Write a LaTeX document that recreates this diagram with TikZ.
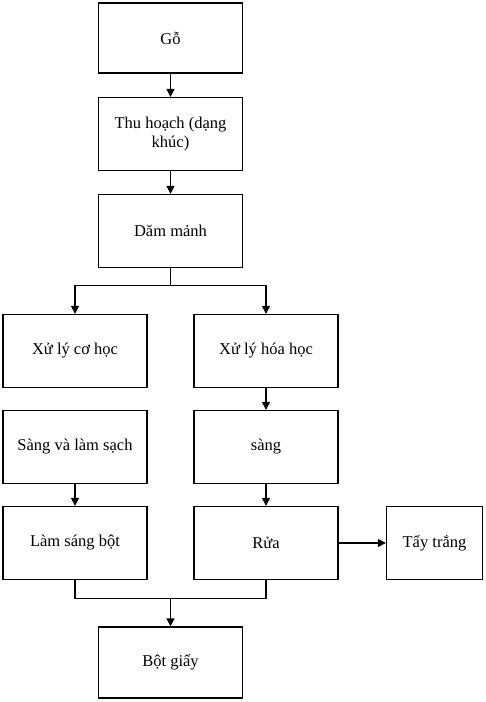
\documentclass[tikz,border=0pt]{standalone}
\usepackage{fontspec}
\setmainfont{Liberation Serif}
\usetikzlibrary{arrows.meta,calc}

\begin{document}
\begin{tikzpicture}[x=1pt,y=-1pt,
		box/.style={draw, line width=1.3pt, minimum width=144pt, minimum height=73pt, inner xsep=2pt, align=center, font=\fontsize{16.5}{19}\selectfont},
		arr/.style={line width=1.3pt, -{Triangle[length=8pt,width=8pt]}},
		ln/.style={line width=1.3pt}]
				\useasboundingbox (0,0) rectangle (486,702);
				
				\node[box, minimum height=70pt] (go) at (170.5,38) {Gỗ};
				\node[box] (thu) at (170.5,134) {Thu hoạch (dạng\\khúc)};
				\node[box] (dam) at (170.5,231) {Dăm mảnh};
				
				\node[box] (coh) at (75,351) {Xử lý cơ học};
				\node[box] (hoa) at (266,351) {Xử lý hóa học};
				
				\node[box] (sangs) at (75,447) {Sàng và làm sạch};
				\node[box] (sang) at (266,447) {sàng};
				
				\node[box] (lam) at (75,543) {Làm sáng bột};
				\node[box] (rua) at (266,543) {Rửa};
				\node[box, minimum width=96pt] (tay) at (434.5,543) {Tẩy trắng};
				
				\node[box, minimum height=71pt] (bot) at (170.5,662.5) {Bột giấy};
				
				\draw[arr] (go) -- (thu);
				\draw[arr] (thu) -- (dam);
				\draw[arr] (dam.south) -- ++(0,17) -| (coh.north);
				\draw[arr] (dam.south) -- ++(0,17) -| (hoa.north);
				\draw[arr] (hoa) -- (sang);
				\draw[arr] (sangs) -- (lam);
				\draw[arr] (sang) -- (rua);
				\draw[arr] (rua) -- (tay);
				
				\coordinate (noi) at ($(lam.south)!0.5!(rua.south)+(0,18)$);
				\draw[ln] (lam.south) |- (noi) -| (rua.south);
				\draw[arr] (noi) -- (bot.north);
			\end{tikzpicture}
\end{document}
